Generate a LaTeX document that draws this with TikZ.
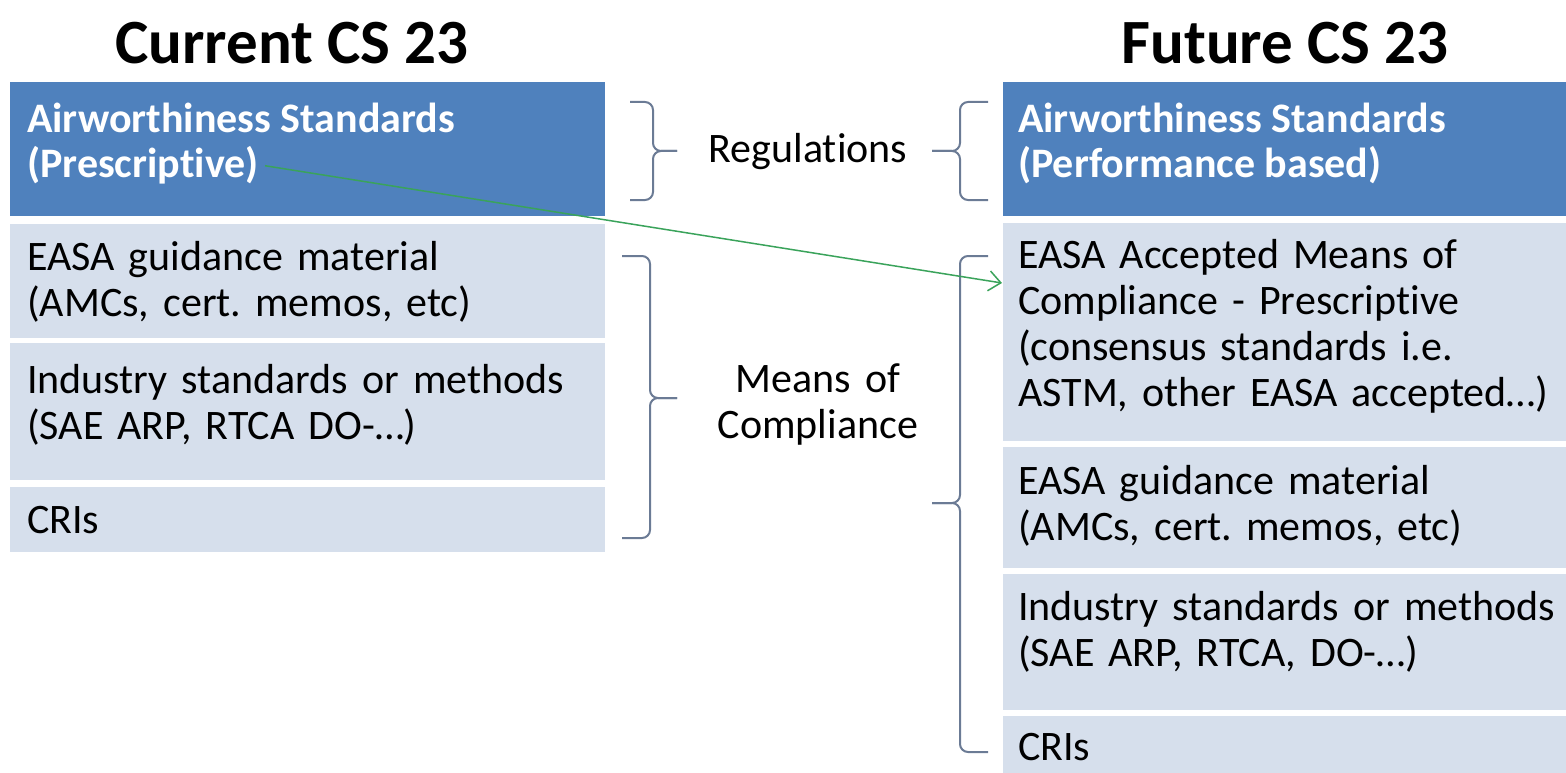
\documentclass[tikz,border=0pt]{standalone}
\usepackage{fontspec}
\setmainfont[Ligatures={NoCommon}]{Carlito}
\usepackage{xcolor}
\usepackage{tikz}
\usetikzlibrary{arrows.meta}

\definecolor{hdrblue}{HTML}{4F81BD}
\definecolor{rowblue}{HTML}{D6DFEC}
\definecolor{bracegray}{HTML}{6B7B95}
\definecolor{arrgreen}{HTML}{3AA35B}

\begin{document}
\frenchspacing
\begin{tikzpicture}[x=1pt,y=-1pt,
    hdr/.style={fill=hdrblue,anchor=north west,inner sep=0},
    row/.style={fill=rowblue,anchor=north west,inner sep=0},
    txt/.style={anchor=base west,inner sep=0,text width=600pt,align=left,
      font=\fontsize{42}{46}\selectfont},
    htxt/.style={anchor=base west,inner sep=0,text=white,
      font=\fontsize{42}{46}\selectfont\bfseries},
    ttl/.style={anchor=base,inner sep=0,font=\fontsize{63}{70}\selectfont\bfseries},
    mid/.style={anchor=base,inner sep=0,text width=300pt,align=center,
      font=\fontsize{42}{46}\selectfont},
    brc/.style={draw=bracegray,line width=2pt,rounded corners=8pt},
    arr/.style={draw=arrgreen,line width=1.5pt,-{Straight Barb[length=12pt,width=20pt]}}]
    \useasboundingbox (0,0) rectangle (1566,773);

    % titles
    \node[ttl] (cur) at (292,64) {Current CS 23};
    \node[ttl] (fut) at (1285,64) {Future CS 23};

    % current column
    \node[hdr,minimum width=595pt,minimum height=134pt] (lhead) at (10,82) {};
    \node[row,minimum width=595pt,minimum height=114pt] (l1) at (10,224) {};
    \node[row,minimum width=595pt,minimum height=137pt] (l2) at (10,343) {};
    \node[row,minimum width=595pt,minimum height=65pt] (l3) at (10,487) {};

    \node[htxt] (lhd1) at (27,132) {Airworthiness Standards};
    \node[htxt] (lhd2) at (27,178) {(Prescriptive)};
    \node[txt] (l1t) at (27,270) {EASA guidance material\\(AMCs, cert. memos, etc)};
    \node[txt] (l2t) at (27,393) {Industry standards or methods\\(SAE ARP, RTCA DO-\ldots)};
    \node[txt] (l3t) at (27,533) {CRIs};

    % future column
    \node[hdr,minimum width=563pt,minimum height=134pt] (rhead) at (1003,82) {};
    \node[row,minimum width=563pt,minimum height=218pt] (r1) at (1003,223) {};
    \node[row,minimum width=563pt,minimum height=121pt] (r2) at (1003,447) {};
    \node[row,minimum width=563pt,minimum height=136pt] (r3) at (1003,574) {};
    \node[row,minimum width=563pt,minimum height=57pt] (r4) at (1003,716) {};

    \node[htxt] (rhd1) at (1018,132) {Airworthiness Standards};
    \node[htxt] (rhd2) at (1018,178) {(Performance based)};
    \node[txt] (r1t) at (1018,268) {EASA Accepted Means of\\Compliance - Prescriptive\\(consensus standards i.e.\\ASTM, other EASA accepted\ldots)};
    \node[txt] (r2t) at (1018,494) {EASA guidance material\\(AMCs, cert. memos, etc)};
    \node[txt] (r3t) at (1018,620) {Industry standards or methods\\(SAE ARP, RTCA, DO-\ldots)};
    \node[txt] (r4t) at (1018,760) {CRIs};

    % braces
    \node[mid] (reg) at (808,163) {Regulations};
    \node[mid] (moc) at (818,392) {Means of\\Compliance};

    \draw[brc] (630,102) -- (653,102) -- (653,151) -- (677,151);
    \draw[brc] (630,200) -- (653,200) -- (653,151) -- (677,151);
    \draw[brc] (988,102) -- (960,102) -- (960,151) -- (932,151);
    \draw[brc] (988,200) -- (960,200) -- (960,151) -- (932,151);

    \draw[brc] (622,256) -- (650,256) -- (650,398) -- (677,398);
    \draw[brc] (622,538) -- (650,538) -- (650,398) -- (677,398);
    \draw[brc] (988,256) -- (960,256) -- (960,503) -- (932,503);
    \draw[brc] (988,752) -- (960,752) -- (960,503) -- (932,503);

    % prescriptive rules move over
    \coordinate (rtip) at (1002,283);
    \draw[arr] ([xshift=6pt]lhd2.east) -- (rtip);
\end{tikzpicture}
\end{document}
